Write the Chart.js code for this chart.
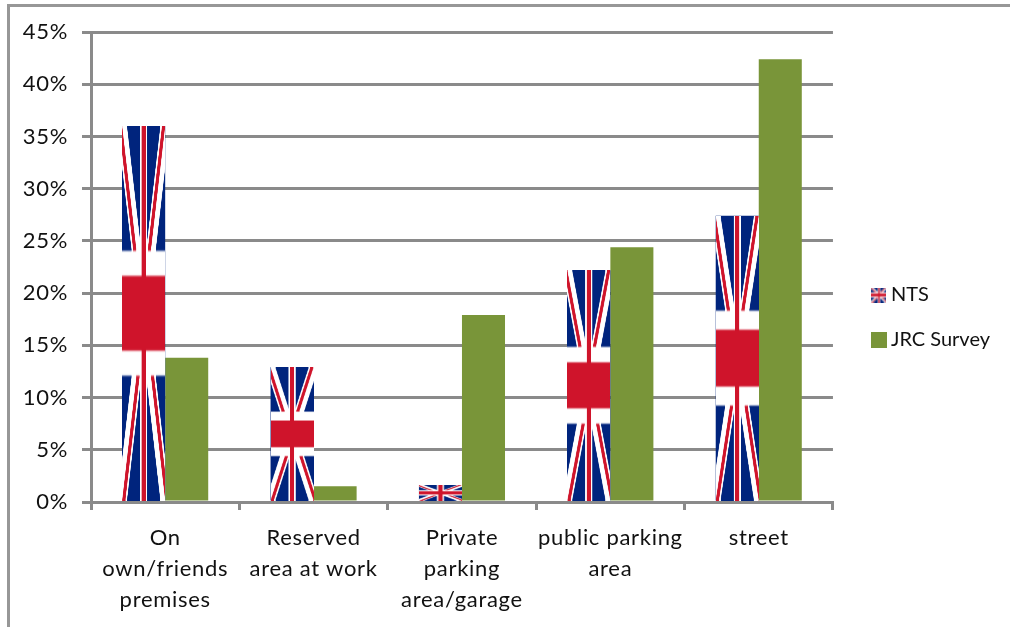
<!DOCTYPE html>
<html>
<head>
<meta charset="utf-8">
<style>
    html, body { margin: 0; padding: 0; background: #fff; }
    #lienzo { position: absolute; left: 0; top: 0; width: 1010px; height: 627px; }
    #marco { position: absolute; left: 7px; top: 4px; right: 0; bottom: 0; border-top: 3px solid #979797; border-left: 3px solid #979797; }
</style>
</head>
<body>
<div id="marco"></div>
<div id="lienzo"><canvas id="grafica" width="1010" height="627"></canvas></div>
<script src="https://cdn.jsdelivr.net/npm/chart.js@4/dist/chart.umd.min.js"></script>
<script>
const categorias = [
    ['On', 'own/friends', 'premises'],
    ['Reserved', 'area at work'],
    ['Private', 'parking', 'area/garage'],
    ['public parking', 'area'],
    ['street']
];
const valoresNTS = [36, 12.9, 1.6, 22.2, 27.4];
const valoresJRC = [13.8, 1.5, 17.9, 24.4, 42.4];
const nombresSeries = ['NTS', 'JRC Survey'];

const VERDE = '#799539';
const GRIS = '#8a8a8a';
const AZUL = '#00247D';
const ROJO = '#CF142B';

// Union Jack in the 60x30 flag grid, stretched later to fit each bar
function crearBandera(ancho, alto) {
    const c = document.createElement('canvas');
    c.width = ancho;
    c.height = alto;
    const g = c.getContext('2d');
    g.scale(ancho / 60, alto / 30);
    g.fillStyle = AZUL;
    g.fillRect(0, 0, 60, 30);
    g.strokeStyle = '#fff';
    g.lineWidth = 6;
    g.beginPath();
    g.moveTo(0, 0); g.lineTo(60, 30);
    g.moveTo(60, 0); g.lineTo(0, 30);
    g.stroke();
    g.save();
    g.beginPath();
    g.moveTo(30, 15); g.lineTo(60, 15); g.lineTo(60, 30); g.closePath();
    g.moveTo(30, 15); g.lineTo(30, 30); g.lineTo(0, 30); g.closePath();
    g.moveTo(30, 15); g.lineTo(0, 15); g.lineTo(0, 0); g.closePath();
    g.moveTo(30, 15); g.lineTo(30, 0); g.lineTo(60, 0); g.closePath();
    g.clip();
    g.strokeStyle = ROJO;
    g.lineWidth = 4;
    g.beginPath();
    g.moveTo(0, 0); g.lineTo(60, 30);
    g.moveTo(60, 0); g.lineTo(0, 30);
    g.stroke();
    g.restore();
    g.fillStyle = '#fff';
    g.fillRect(25, 0, 10, 30);
    g.fillRect(0, 10, 60, 10);
    g.fillStyle = ROJO;
    g.fillRect(27, 0, 6, 30);
    g.fillRect(0, 12, 60, 6);
    return c;
}

const bandera = crearBandera(600, 300);

function crearMuestraBandera() {
    const c = document.createElement('canvas');
    c.width = 15;
    c.height = 15;
    const g = c.getContext('2d');
    g.imageSmoothingQuality = 'high';
    g.drawImage(bandera, 0, 0, 15, 15);
    return c;
}

function crearMuestraVerde() {
    const c = document.createElement('canvas');
    c.width = 16;
    c.height = 16;
    const g = c.getContext('2d');
    g.fillStyle = VERDE;
    g.fillRect(0, 0, 16, 16);
    return c;
}

const muestras = [crearMuestraBandera(), crearMuestraVerde()];

const pluginBandera = {
    id: 'pluginBandera',
    beforeDraw(chart) {
        chart.ctx.letterSpacing = '0.7px';
    },
    afterLayout(chart) {
        // nudge the legend to where the original sits, text without extra spacing
        const legend = chart.legend;
        legend.top -= 12;
        legend.bottom -= 12;
        legend.left += 19;
        legend.right += 19;
        if (!legend.drawOriginal) {
            legend.drawOriginal = legend.draw;
            legend.draw = function () {
                const previo = chart.ctx.letterSpacing;
                chart.ctx.letterSpacing = '0px';
                legend.drawOriginal();
                chart.ctx.letterSpacing = previo;
            };
        }
    },
    afterDatasetDraw(chart, args) {
        if (args.index !== 0) return;
        const ctx = chart.ctx;
        ctx.save();
        ctx.imageSmoothingQuality = 'high';
        args.meta.data.forEach(barra => {
            const { x, y, width, base } = barra.getProps(['x', 'y', 'width', 'base'], true);
            ctx.drawImage(bandera, x - width / 2, y, width, base - y);
        });
        ctx.restore();
    }
};

new Chart(document.getElementById('grafica'), {
    type: 'bar',
    data: {
        labels: categorias,
        datasets: [
            { label: nombresSeries[0], data: valoresNTS, backgroundColor: AZUL },
            { label: nombresSeries[1], data: valoresJRC, backgroundColor: VERDE }
        ]
    },
    plugins: [pluginBandera],
    options: {
        responsive: false,
        animation: false,
        devicePixelRatio: 1,
        categoryPercentage: 0.58,
        barPercentage: 1,
        layout: { padding: { top: 32, right: 29, left: 0, bottom: 0 } },
        font: { family: 'Lato, sans-serif' },
        plugins: {
            tooltip: { enabled: false },
            legend: {
                position: 'right',
                labels: {
                    usePointStyle: true,
                    pointStyleWidth: 4,
                    color: '#111',
                    padding: 25,
                    font: { family: 'Lato, sans-serif', size: 20 },
                    generateLabels(chart) {
                        return Chart.defaults.plugins.legend.labels.generateLabels(chart).map((item, i) => {
                            item.pointStyle = muestras[i];
                            return item;
                        });
                    }
                }
            }
        },
        scales: {
            x: {
                afterFit(scale) { scale.height = 125; },
                grid: { drawOnChartArea: false, color: GRIS, lineWidth: 3, tickLength: 8 },
                border: { color: GRIS, width: 3, z: 1 },
                ticks: {
                    color: '#111',
                    maxRotation: 0,
                    autoSkip: false,
                    padding: 12,
                    font: { family: 'Lato, sans-serif', size: 22, lineHeight: 1.41 }
                }
            },
            y: {
                min: 0,
                max: 45,
                afterFit(scale) { scale.width = 91; },
                grid: { color: GRIS, lineWidth: 3, tickLength: 9 },
                border: { color: GRIS, width: 3 },
                ticks: {
                    stepSize: 5,
                    color: '#111',
                    padding: 14,
                    font: { family: 'Lato, sans-serif', size: 22 },
                    callback: v => v + '%'
                }
            }
        }
    }
});
</script>
</body>
</html>
